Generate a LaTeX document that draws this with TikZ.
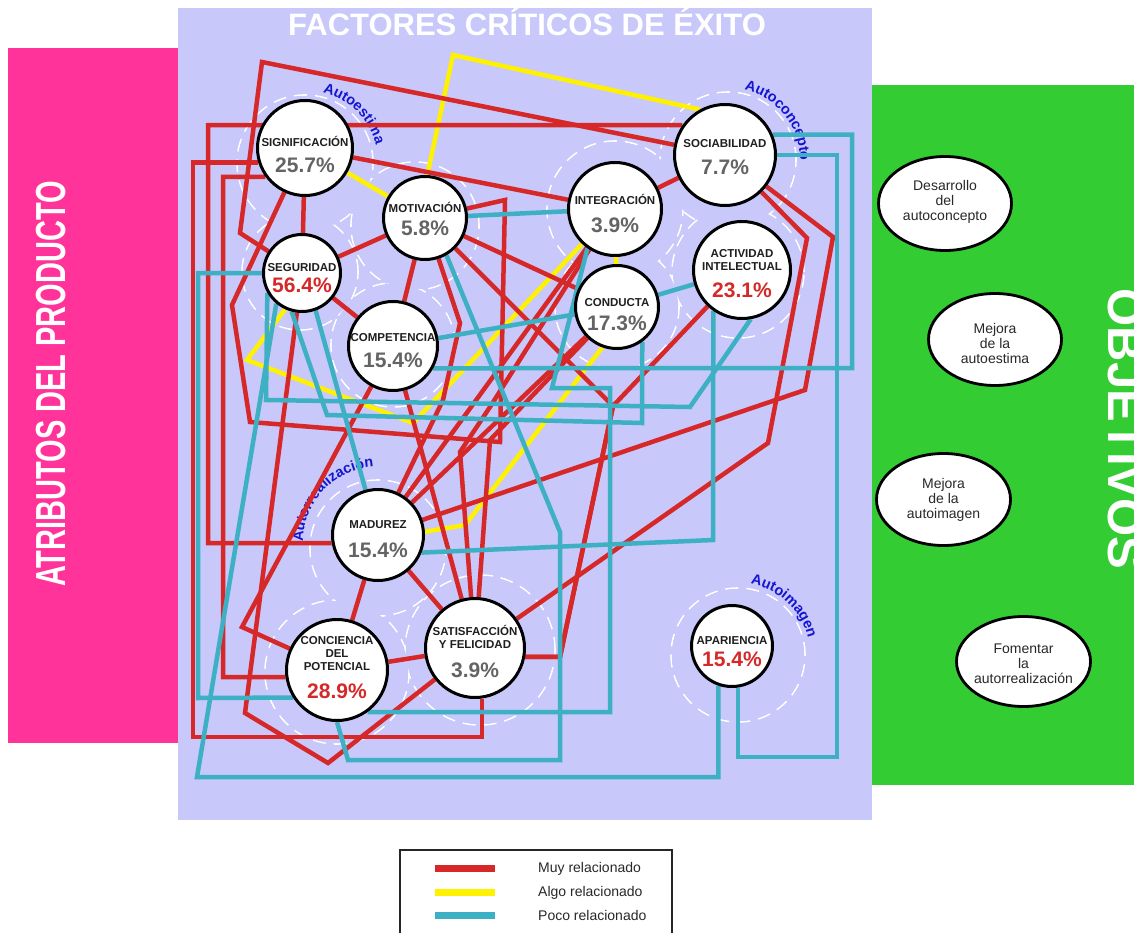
\documentclass[tikz,border=0pt]{standalone}
\usepackage{graphicx}
\usepackage{fontspec}
\setmainfont{Liberation Sans}
\usetikzlibrary{shapes.geometric,decorations.text}
\pgfdeclarelayer{bg}
\pgfdeclarelayer{lines}
\pgfsetlayers{bg,lines,main}
\definecolor{pinkbg}{RGB}{255,51,153}
\definecolor{lavbg}{RGB}{200,200,250}
\definecolor{greenbg}{RGB}{51,204,51}
\definecolor{cred}{RGB}{214,40,40}
\definecolor{cyel}{RGB}{255,242,0}
\definecolor{cteal}{RGB}{62,176,196}
\definecolor{cblue}{RGB}{20,20,210}
\definecolor{pgray}{RGB}{100,100,100}
\definecolor{tgray}{RGB}{40,40,40}
\newcommand{\grpfont}{\fontsize{14.5}{15}\selectfont\bfseries\color{cblue}}
\begin{document}
\begin{tikzpicture}[x=1pt,y=-1pt,
  fc/.style={circle,draw=black,line width=3pt,fill=white,inner sep=0pt},
  nm/.style={anchor=base,inner sep=0pt,font=\fontsize{11.5}{13}\selectfont\bfseries,text=black!88},
  pg/.style={anchor=base,inner sep=0pt,font=\fontsize{21}{24}\selectfont\bfseries,text=pgray},
  pr/.style={pg,text=cred},
  rl/.style={draw=cred,line width=4.5pt},
  yl/.style={draw=cyel,line width=4.5pt},
  tl/.style={draw=cteal,line width=4.5pt},
  grp/.style={draw=white,line width=1.6pt,dash pattern=on 13pt off 8pt},
  obj/.style={ellipse,draw=black,line width=2.8pt,fill=white,inner sep=0pt},
  objt/.style={align=center,font=\fontsize{14}{15}\selectfont,text=tgray,inner sep=0pt},
  lgt/.style={anchor=base west,font=\fontsize{14}{16}\selectfont,text=tgray,inner sep=0pt},
]
\useasboundingbox (0,0) rectangle (1134,933);

% ---------- nodes ----------
\node[fc,minimum size=95pt] (sig) at (305,148) {};
\node[fc,minimum size=83pt] (mot) at (425,218) {};
\node[fc,minimum size=77pt] (seg) at (302,273) {};
\node[fc,minimum size=89pt] (comp) at (393,346) {};
\node[fc,minimum size=93pt] (integ) at (615,209) {};
\node[fc,minimum size=101pt] (soc) at (725,155) {};
\node[fc,minimum size=97pt] (act) at (742,270) {};
\node[fc,minimum size=83pt] (cond) at (617,307) {};
\node[fc,minimum size=91pt] (mad) at (378,535) {};
\node[fc,minimum size=101pt] (conc) at (337,670) {};
\node[fc,minimum size=99pt] (sat) at (475,648) {};
\node[fc,minimum size=81pt] (apar) at (732,646) {};

\node[nm] (sigN) at (305,147) {SIGNIFICACIÓN};
\node[pg] (sigP) at (305,172.5) {25.7\%};
\node[nm] (motN) at (425,212.5) {MOTIVACIÓN};
\node[pg] (motP) at (425,235.5) {5.8\%};
\node[nm] (segN) at (302,271) {SEGURIDAD};
\node[pr] (segP) at (302,292.5) {56.4\%};
\node[nm] (compN) at (393,341.5) {COMPETENCIA};
\node[pg] (compP) at (393,367) {15.4\%};
\node[nm] (integN) at (615,205) {INTEGRACIÓN};
\node[pg] (integP) at (615,232.5) {3.9\%};
\node[nm] (socN) at (725,148) {SOCIABILIDAD};
\node[pg] (socP) at (725,175) {7.7\%};
\node[nm] (actN1) at (742,258) {ACTIVIDAD};
\node[nm] (actN2) at (742,270.5) {INTELECTUAL};
\node[pr] (actP) at (742,297.5) {23.1\%};
\node[nm] (condN) at (617,306) {CONDUCTA};
\node[pg] (condP) at (617,330) {17.3\%};
\node[nm] (madN) at (378,528) {MADUREZ};
\node[pg] (madP) at (378,557) {15.4\%};
\node[nm] (concN1) at (337,644) {CONCIENCIA};
\node[nm] (concN2) at (337,657.5) {DEL};
\node[nm] (concN3) at (337,670.5) {POTENCIAL};
\node[pr] (concP) at (337,698) {28.9\%};
\node[nm] (satN1) at (475,635) {SATISFACCIÓN};
\node[nm] (satN2) at (475,648) {Y FELICIDAD};
\node[pg] (satP) at (475,677) {3.9\%};
\node[nm] (aparN) at (732,644) {APARIENCIA};
\node[pr] (aparP) at (732,666) {15.4\%};

% ---------- backgrounds and groups ----------
\begin{pgfonlayer}{bg}
\fill[white] (0,0) rectangle (1134,933);
\fill[pinkbg] (8,48) rectangle (178,743);
\fill[lavbg] (178,8) rectangle (872,820);
\fill[greenbg] (872,85) rectangle (1134,785);
% Autoestima
\draw[grp] (305,163) circle[radius=68pt];
\draw[grp] (415,226) circle[radius=64pt];
\draw[grp] (300,272) circle[radius=58pt];
\draw[grp] (393,345) circle[radius=62pt];
\fill[lavbg] (305,163) circle[radius=67.1pt];
\fill[lavbg] (415,226) circle[radius=63.1pt];
\fill[lavbg] (300,272) circle[radius=57.1pt];
\fill[lavbg] (393,345) circle[radius=61.1pt];
% Autoconcepto
\draw[grp] (728,160) circle[radius=68pt];
\draw[grp] (615,209) circle[radius=68pt];
\draw[grp] (738,272) circle[radius=66pt];
\draw[grp] (617,307) circle[radius=62pt];
\fill[lavbg] (728,160) circle[radius=67.1pt];
\fill[lavbg] (615,209) circle[radius=67.1pt];
\fill[lavbg] (738,272) circle[radius=65.1pt];
\fill[lavbg] (617,307) circle[radius=61.1pt];
% Autorrealizacion
\draw[grp] (378,548) circle[radius=68pt];
\draw[grp] (337,672) circle[radius=72pt];
\draw[grp] (480,650) circle[radius=75pt];
\fill[lavbg] (378,548) circle[radius=67.1pt];
\fill[lavbg] (337,672) circle[radius=71.1pt];
\fill[lavbg] (480,650) circle[radius=74.1pt];
% Autoimagen
\draw[grp] (738,655) circle[radius=67pt];
\fill[lavbg] (738,655) circle[radius=66.1pt];
% group labels
\begin{scope}[y=1pt]
\path[decorate,decoration={text along path,text={|\grpfont|Autoestima}}]
  (322.7,-92.2) arc[start angle=76,end angle=-20,radius=73];
\path[decorate,decoration={text along path,text={|\grpfont|Autoconcepto}}]
  (744.2,-89.8) arc[start angle=77,end angle=-40,radius=72];
\path[decorate,decoration={text along path,text={|\grpfont|Autorrealización}}]
  (303,-542) arc[start angle=180,end angle=40,radius=75];
\path[decorate,decoration={text along path,text={|\grpfont|Autoimagen}}]
  (750.5,-584.1) arc[start angle=80,end angle=-40,radius=72];
\end{scope}
\end{pgfonlayer}

% ---------- connectors ----------
\begin{pgfonlayer}{lines}
% yellow
\draw[yl] (mot.87) -- (453,55) -- (soc.119);
\draw[yl] (sig) -- (mot);
\draw[yl] (seg.-115) -- (247,360) -- (413,423) -- (integ);
\draw[yl] (cond.-110) -- (465,525) -- (mad.4);
\draw[yl] (integ) -- (cond);
% red
\draw[rl] (soc) -- (262,62) -- (240,233) -- (seg);
\draw[rl] (soc.145) -| (208,543) -- (mad.190);
\draw[rl] (sig.197) -| (193,737) -| (sat.-82);
\draw[rl] (sig.216) -| (223,677) -- (conc.188);
\draw[rl] (sig) -- (integ);
\draw[rl] (sig) -- (seg);
\draw[rl] (seg) -- (mot);
\draw[rl] (sig) -- (232,305) -- (250,422) -- (500,442) -- (505,200) -- (mot);
\draw[rl] (seg) -- (comp);
\draw[rl] (mot) -- (comp);
\draw[rl] (mot) -- (460,323) -- (443,400) -- (mad);
\draw[rl] (mot) -- (cond);
\draw[rl] (mot) -- (613,406) -- (560,657) -- (sat.-10);
\draw[rl] (act) -- (613,406) -- (560,657) -- (sat.-10);
\draw[rl] (soc) -- (integ);
\draw[rl] (soc) -- (833,237) -- (805,390) -- (mad);
\draw[rl] (soc) -- (807,238) -- (768,443) -- (sat);
\draw[rl] (integ) -- (490,407) -- (460,452) -- (sat);
\draw[rl] (cond) -- (mad);
\draw[rl] (integ) -- (mad);
\draw[rl] (comp) -- (242,627) -- (conc);
\draw[rl] (seg) -- (245,713) -- (328,763) -- (sat);
\draw[rl] (conc) -- (mad);
\draw[rl] (mad) -- (sat);
\draw[rl] (conc) -- (sat);
\draw[rl] (cond) -- (490,440) -- (sat);
\draw[rl] (comp) -- (sat);
% teal
\draw[tl] (apar.-109.5) |- (197,777) -- (seg.-130);
\draw[tl] (apar.-82) |- (837,757) |- (soc.0);
\draw[tl] (soc.23) -| (852,368) -- (comp.-29);
\draw[tl] (integ.-125) -- (552,388) -| (610,712) -- (conc.-54);
\draw[tl] (seg.-150) -- (266,400) -- (690,407) -- (act.-80);
\draw[tl] (seg.-105) -- (327,415) -- (642,423) -- (cond.-54.5);
\draw[tl] (seg.-70) -- (mad);
\draw[tl] (mot.-60) -- (560,532) |- (348,760) -- (conc.-90);
\draw[tl] (mad.-22.5) -- (713,540) -- (act.-125.5);
\draw[tl] (mot) -- (integ);
\draw[tl] (comp) -- (cond);
\draw[tl] (cond) -- (act);
\draw[tl] (seg.180) -| (198,698) -- (conc.212.6);
\end{pgfonlayer}

% ---------- titles ----------
\node[anchor=base,inner sep=0pt,text=white,font=\fontsize{31}{31}\selectfont\bfseries] (title) at (527,36) {FACTORES CRÍTICOS DE ÉXITO};
\node[rotate=90,inner sep=0pt,text=white,font=\fontsize{42}{42}\selectfont\bfseries] (attr) at (51,384) {\scalebox{0.69}[1]{ATRIBUTOS DEL PRODUCTO}};
\node[rotate=-90,inner sep=0pt,text=white,font=\fontsize{49}{49}\selectfont\bfseries] (objv) at (1125.5,429) {OBJETIVOS};

% ---------- objectives ----------
\node[obj,minimum width=133pt,minimum height=94pt] (o1) at (945,203.5) {};
\node[objt] (o1t) at (945,202) {Desarrollo\\del\\autoconcepto};
\node[obj,minimum width=133pt,minimum height=92pt] (o2) at (995,339.5) {};
\node[objt] (o2t) at (995,343) {Mejora\\de la\\autoestima};
\node[obj,minimum width=134pt,minimum height=92pt] (o3) at (943.5,499.5) {};
\node[objt] (o3t) at (943.5,500) {Mejora\\de la\\autoimagen};
\node[obj,minimum width=134pt,minimum height=90pt] (o4) at (1023.5,661.5) {};
\node[objt] (o4t) at (1023.5,664) {Fomentar\\la\\autorrealización};

% ---------- legend ----------
\draw[line width=2pt,draw=black!85,fill=white] (400,850) rectangle (672,950);
\draw[cred,line width=7pt] (435,868) -- (495,868);
\draw[cyel,line width=7pt] (435,892) -- (495,892);
\draw[cteal,line width=7pt] (435,915) -- (495,915);
\node[lgt] (lg1) at (538,872) {Muy relacionado};
\node[lgt] (lg2) at (538,896) {Algo relacionado};
\node[lgt] (lg3) at (538,920) {Poco relacionado};
\end{tikzpicture}
\end{document}
